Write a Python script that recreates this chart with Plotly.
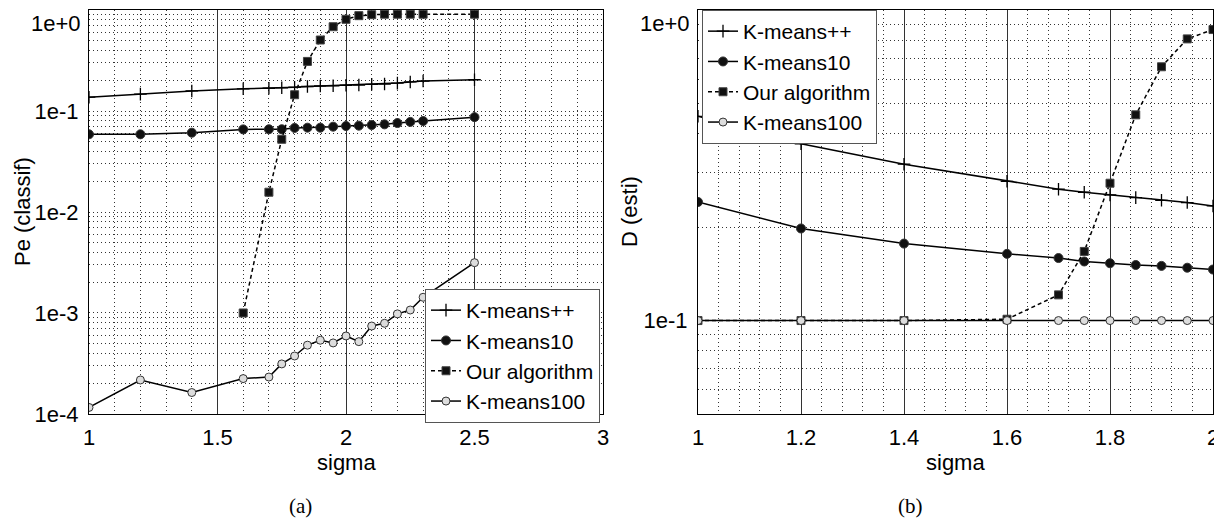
import plotly.graph_objects as go

# ---------------- data ----------------
series_names = ["K-means++", "K-means10", "Our algorithm", "K-means100"]

# panel (a)
sigma_a = [1.0, 1.2, 1.4, 1.6, 1.7, 1.75, 1.8, 1.85, 1.9, 1.95, 2.0, 2.05, 2.1, 2.15, 2.2, 2.25, 2.3, 2.5]
kpp_a = [0.137, 0.147, 0.158, 0.166, 0.168, 0.170, 0.172, 0.175, 0.177, 0.178, 0.180, 0.181, 0.184, 0.185, 0.189, 0.194, 0.198, 0.204]
k10_a = [0.0588, 0.0588, 0.061, 0.0658, 0.066, 0.066, 0.068, 0.0684, 0.0684, 0.070, 0.071, 0.0716, 0.0727, 0.0738, 0.076, 0.078, 0.0796, 0.087]
sigma_ours_a = [1.6, 1.7, 1.75, 1.8, 1.85, 1.9, 1.95, 2.0, 2.05, 2.1, 2.15, 2.2, 2.25, 2.3, 2.5]
ours_a = [0.001, 0.0157, 0.0525, 0.145, 0.31, 0.505, 0.684, 0.81, 0.88, 0.90, 0.91, 0.91, 0.91, 0.91, 0.91]
k100_a = [1.16e-4, 2.17e-4, 1.63e-4, 2.24e-4, 2.32e-4, 3.13e-4, 3.75e-4, 4.8e-4, 5.37e-4, 5.05e-4,
          5.92e-4, 5.2e-4, 7.43e-4, 7.9e-4, 9.8e-4, 1.07e-3, 1.43e-3, 3.15e-3]

# panel (b)
sigma_b = [1.0, 1.2, 1.4, 1.6, 1.7, 1.75, 1.8, 1.85, 1.9, 1.95, 2.0]
kpp_b = [0.455, 0.371, 0.319, 0.281, 0.265, 0.259, 0.254, 0.249, 0.244, 0.240, 0.234]
k10_b = [0.241, 0.198, 0.177, 0.164, 0.159, 0.155, 0.153, 0.151, 0.150, 0.148, 0.146]
ours_b = [0.100, 0.100, 0.100, 0.101, 0.121, 0.167, 0.277, 0.46, 0.657, 0.808, 0.866]
k100_b = [0.1, 0.1, 0.1, 0.1, 0.1, 0.1, 0.1, 0.1, 0.1, 0.1, 0.1]

# tick labels
xticks_a = [1, 1.5, 2, 2.5, 3]
xticklabels_a = ["1", "1.5", "2", "2.5", "3"]
xticks_b = [1, 1.2, 1.4, 1.6, 1.8, 2]
xticklabels_b = ["1", "1.2", "1.4", "1.6", "1.8", "2"]
decades_a = [1e-4, 1e-3, 1e-2, 1e-1]
decade_labels_a = ["1e-4", "1e-3", "1e-2", "1e-1"]
decades_b = [1e-2, 1e-1]
decade_labels_b = ["", "1e-1"]
top_label = "1e+0"   # label of the top decade (1e0), kept inside the page

# ---------------- styling ----------------
PAGE_MARGIN = 8                      # default <body> margin of the html page
W, H = 1222 - PAGE_MARGIN, 521 - PAGE_MARGIN
FONT = "Liberation Sans, Arial, sans-serif"
FS = 22
LFS = 21


def px_x(p):
    """window pixel -> paper x"""
    return (p - PAGE_MARGIN) / W


def px_y(p):
    """window pixel -> paper y"""
    return 1 - (p - PAGE_MARGIN) / H


def log_ticks(decades, labels, lo, hi):
    vals, texts = [], []
    for d, lab in zip(decades, labels):
        for m in range(1, 10):
            v = d * m
            if lo * 0.999 <= v <= hi * 1.001:
                vals.append(v)
                texts.append(lab if m == 1 else "")
    return vals, texts


yv_a, yt_a = log_ticks(decades_a, decade_labels_a, 1e-4, 1.0)
yv_b, yt_b = log_ticks(decades_b, decade_labels_b, 0.05, 1.0)

styles = {
    "K-means++": dict(mode="lines+markers", line=dict(color="black", width=1.5),
                      marker=dict(symbol="cross-thin", size=9, line=dict(color="black", width=1.3))),
    "K-means10": dict(mode="lines+markers", line=dict(color="black", width=1.5),
                      marker=dict(symbol="circle", size=9, color="#111", line=dict(color="#333", width=1))),
    "Our algorithm": dict(mode="lines+markers", line=dict(color="black", width=1.5, dash="4px,3px"),
                          marker=dict(symbol="square", size=8, color="#111", line=dict(color="#444", width=1))),
    "K-means100": dict(mode="lines+markers", line=dict(color="black", width=1.5),
                       marker=dict(symbol="circle", size=8, color="#dddddd", line=dict(color="#333", width=1))),
}

fig = go.Figure()

panel_a = [(sigma_a, kpp_a), (sigma_a, k10_a), (sigma_ours_a, ours_a), (sigma_a, k100_a)]
panel_b = [(sigma_b, kpp_b), (sigma_b, k10_b), (sigma_b, ours_b), (sigma_b, k100_b)]

for name, (xs, ys) in zip(series_names, panel_a):
    fig.add_trace(go.Scatter(x=xs, y=ys, name=name, xaxis="x", yaxis="y",
                             legend="legend", **styles[name]))
for name, (xs, ys) in zip(series_names, panel_b):
    fig.add_trace(go.Scatter(x=xs, y=ys, name=name, xaxis="x2", yaxis="y2",
                             legend="legend2", **styles[name]))

ydom = [px_y(414), px_y(10)]
tickfont = dict(family=FONT, size=FS, color="black")
grid_dot = "1px,3px"

common_x = dict(showline=True, linecolor="black", linewidth=1, mirror=True,
                showgrid=True, gridcolor="#333", gridwidth=1, zeroline=False,
                ticks="", tickfont=tickfont, ticklabelstandoff=4, automargin=False)
common_y = dict(type="log", showline=True, linecolor="black", linewidth=1, mirror=True,
                showgrid=True, gridcolor="#333", gridwidth=1, griddash=grid_dot, zeroline=False,
                ticks="", tickfont=tickfont, tickmode="array", ticklabelstandoff=5,
                automargin=False)

fig.update_layout(
    width=W, height=H,
    margin=dict(l=0, r=0, t=0, b=0, pad=0),
    paper_bgcolor="white", plot_bgcolor="white",
    font=dict(family=FONT, size=FS, color="black"),
    xaxis=dict(domain=[px_x(89), px_x(603)], range=[1, 3], anchor="y",
               tickmode="array", tickvals=xticks_a, ticktext=xticklabels_a,
               minor=dict(dtick=0.1, tick0=1, showgrid=True, gridcolor="#333",
                          griddash=grid_dot, gridwidth=1, ticks=""),
               **common_x),
    yaxis=dict(domain=ydom, range=[-4.0005, 0.0005], anchor="x",
               tickvals=yv_a, ticktext=yt_a, **common_y),
    xaxis2=dict(domain=[px_x(698), px_x(1213)], range=[1, 2], anchor="y2",
                tickmode="array", tickvals=xticks_b, ticktext=xticklabels_b,
                minor=dict(dtick=0.04, tick0=1, showgrid=True, gridcolor="#333",
                           griddash=grid_dot, gridwidth=1, ticks=""),
                **common_x),
    yaxis2=dict(domain=ydom, range=[-1.30103, 0.0005], anchor="x2",
                tickvals=yv_b, ticktext=yt_b, **common_y),
    legend=dict(x=px_x(425), y=px_y(289), xanchor="left", yanchor="top",
                bgcolor="white", bordercolor="#555", borderwidth=1,
                font=dict(family=FONT, size=LFS), tracegroupgap=0, itemwidth=30),
    legend2=dict(x=px_x(702), y=px_y(10), xanchor="left", yanchor="top",
                 bgcolor="white", bordercolor="#555", borderwidth=1,
                 font=dict(family=FONT, size=LFS), tracegroupgap=0, itemwidth=30),
    showlegend=True,
)

annotations = [
    dict(text="sigma", x=px_x(346), y=px_y(462)),
    dict(text="sigma", x=px_x(955.5), y=px_y(462)),
    dict(text="Pe (classif)", x=px_x(22), y=px_y(212), textangle=-90),
    dict(text="D (esti)", x=px_x(629), y=px_y(212), textangle=-90),
]
for a in annotations:
    fig.add_annotation(xref="paper", yref="paper", xanchor="center", yanchor="middle",
                       showarrow=False, font=dict(family=FONT, size=FS, color="black"), **a)

# top decade labels (sit just below the top edge, as in the reference)
for xr in [83, 692]:
    fig.add_annotation(text=top_label, xref="paper", yref="paper", x=px_x(xr), y=px_y(9),
                       xanchor="right", yanchor="top", showarrow=False,
                       font=dict(family=FONT, size=FS, color="black"))

for cap, cx in [("(a)", 300), ("(b)", 910)]:
    fig.add_annotation(text=cap, xref="paper", yref="paper", x=px_x(cx), y=px_y(506),
                       xanchor="center", yanchor="middle", showarrow=False,
                       font=dict(family="Liberation Serif, Times New Roman, serif", size=21, color="black"))

fig.write_html("out.html")
